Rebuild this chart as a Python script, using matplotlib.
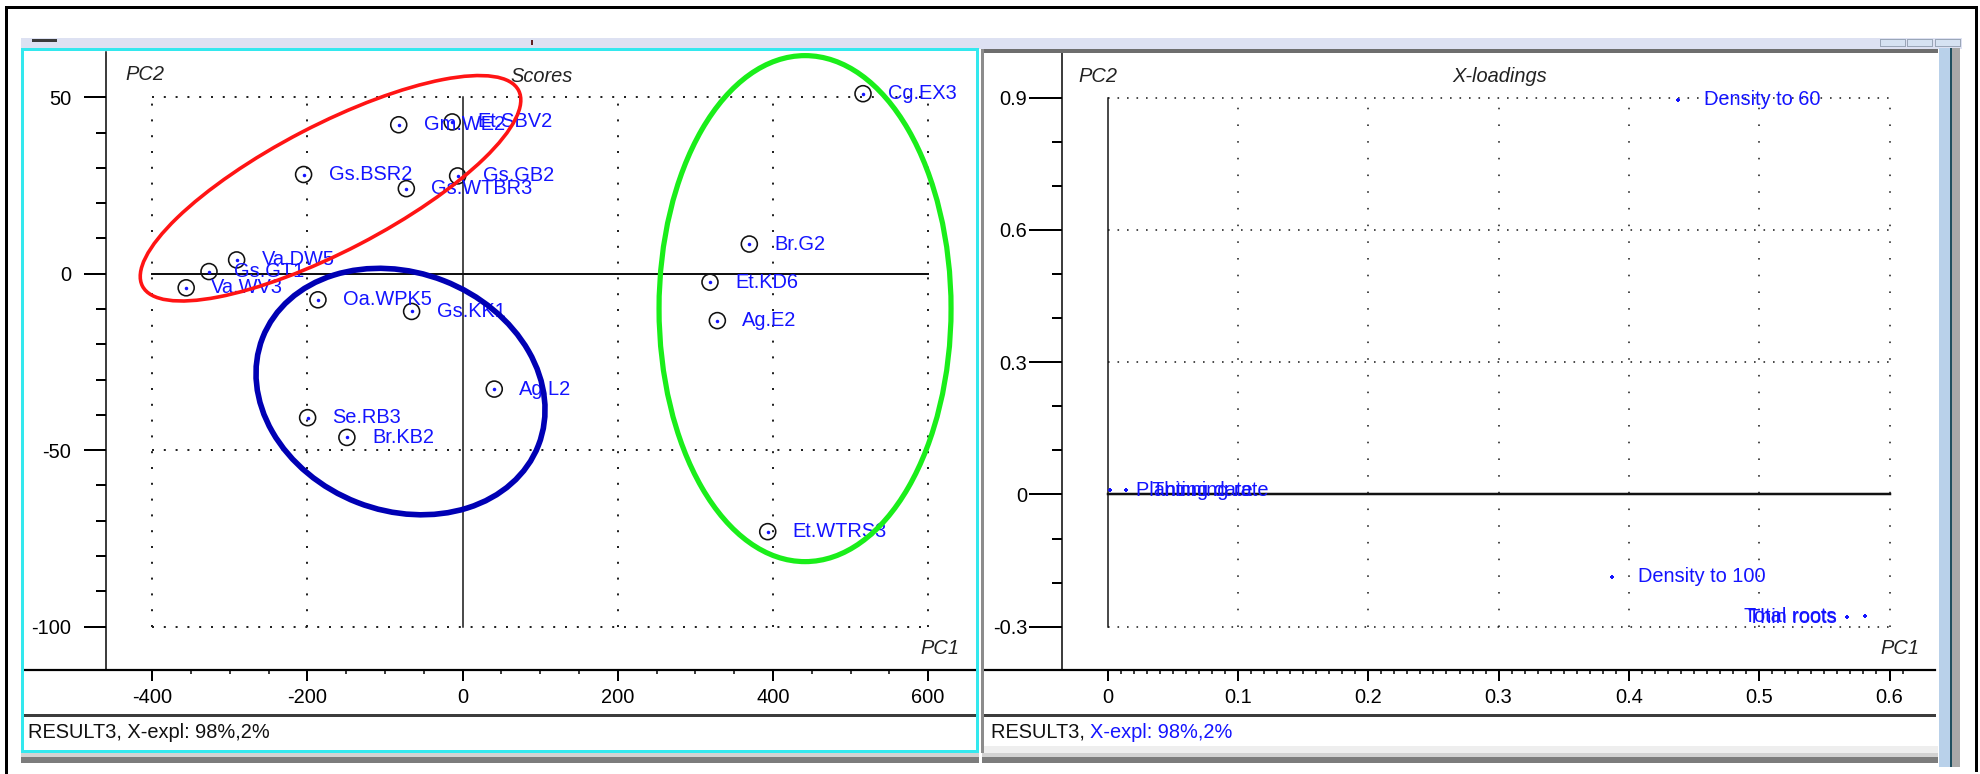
import numpy as np
import matplotlib
matplotlib.use('Agg')
import matplotlib.pyplot as plt
from matplotlib import font_manager
from matplotlib.patches import Ellipse, Rectangle
from matplotlib.transforms import ScaledTranslation
from matplotlib.ticker import FixedLocator

# PCA scores (RESULT3)
score_names = ['Cg.EX3', 'Br.G2', 'Et.KD6', 'Ag.E2', 'Et.WTRS3', 'Ag.L2',
               'Gs.KK1', 'Oa.WPK5', 'Se.RB3', 'Br.KB2', 'Gm.WE2', 'Et.SBV2',
               'Gs.BSR2', 'Gs.WTBR3', 'Gs.GB2', 'Va.DW5', 'Gs.GT1', 'Va.WV3']
score_pc1 = [516.1, 369.6, 318.9, 328.4, 393.3, 40.9,
             -65.6, -186.3, -199.6, -149.0, -82.2, -13.3,
             -204.8, -72.4, -6.3, -291.1, -326.7, -356.1]
score_pc2 = [51.0, 8.4, -2.4, -13.3, -73.1, -32.7,
             -10.7, -7.4, -40.8, -46.4, 42.2, 43.0,
             28.1, 24.1, 27.7, 3.9, 0.6, -4.0]

# X-loadings
loading_names = ['Planting date', 'Thinning rate', 'Density to 60',
                 'Density to 100', 'Thin roots', 'Total roots']
loading_pc1 = [0.0015, 0.0141, 0.4377, 0.3873, 0.5672, 0.5813]
loading_pc2 = [0.010, 0.010, 0.8947, -0.1867, -0.278, -0.276]

score_xticks = [-400, -200, 0, 200, 400, 600]
score_yticks = [-100, -50, 0, 50]
loading_xticks = [0, 0.1, 0.2, 0.3, 0.4, 0.5, 0.6]
loading_yticks = [-0.3, 0, 0.3, 0.6, 0.9]

status_text = 'RESULT3, X-expl: 98%,2%'

W, H = 1980, 774
PT = 0.72  # points per pixel at 100 dpi
BLUE = '#1414ff'

fonts = font_manager.fontManager.ttflist
if any(f.name == 'Liberation Sans Narrow' for f in fonts):
    family, stretch, FS = 'Liberation Sans Narrow', 'normal', 17
elif any(f.name == 'Noto Sans' and f.stretch == 'condensed' for f in fonts):
    family, stretch, FS = 'Noto Sans', 'condensed', 16
else:
    family, stretch, FS = 'Liberation Sans', 'normal', 14.4
plt.rcParams['font.family'] = [family, 'DejaVu Sans']
plt.rcParams['font.stretch'] = stretch
plt.rcParams['axes.unicode_minus'] = False
plt.rcParams['lines.scale_dashes'] = False

fig = plt.figure(figsize=(W / 100, H / 100), dpi=100)
fig.patch.set_facecolor('white')


def box(x0, y0, x1, y1):
    return [x0 / W, 1 - y1 / H, (x1 - x0) / W, (y1 - y0) / H]


def rect(x0, y0, x1, y1, color):
    fig.add_artist(Rectangle((x0 / W, 1 - y1 / H), (x1 - x0) / W, (y1 - y0) / H,
                             transform=fig.transFigure, facecolor=color,
                             edgecolor='none', zorder=1))


def ftext(x, y, s, **kw):
    return fig.text(x / W, 1 - y / H, s, **kw)


# window chrome
rect(5, 6, 1978, 9, 'black')
rect(5, 6, 8, 774, 'black')
rect(1975, 6, 1978, 772, 'black')
rect(21, 38, 1962, 49, '#dde1f2')
rect(32, 39, 57, 42, '#3a3a3a')
rect(531, 40, 533, 45, '#602020')
for bx in (1880, 1907, 1935):
    rect(bx, 39, bx + 26, 47, '#9aa6b8')
    rect(bx + 1, 40, bx + 25, 46, '#d6e2f2')

# left panel frame (active, cyan)
rect(21, 48, 979, 51, '#33e8ee')
rect(21, 48, 24, 753, '#33e8ee')
rect(976, 48, 979, 753, '#33e8ee')
rect(21, 750, 979, 753, '#33e8ee')
rect(21, 753, 979, 757, '#d2d2d2')
rect(21, 757, 979, 763, '#7c7c7c')

# right panel frame
rect(981, 49, 1938, 53, '#6e6e6e')
rect(981, 49, 984, 753, '#8c8c8c')
rect(984, 746, 1938, 753, '#eeeeee')
rect(982, 753, 1938, 757, '#d2d2d2')
rect(982, 757, 1938, 763, '#7c7c7c')
rect(1939, 48, 1950, 767, '#b9d1ea')
rect(1950, 48, 1952, 767, '#1f4f5f')
rect(1952, 48, 1960, 767, '#a8a8a8')

# status bar separators
rect(24, 714, 976, 717, '#3c3c3c')
rect(984, 714, 1936, 717, '#3c3c3c')


def dotted(ax, horiz, vals, lo, hi, period_px, lw_px):
    style = (0, (lw_px * PT, (period_px - lw_px) * PT))
    for v in vals:
        if horiz:
            ax.plot([lo, hi], [v, v], color='#222222', lw=lw_px * PT, ls=style, zorder=1)
        else:
            ax.plot([v, v], [lo, hi], color='#222222', lw=lw_px * PT, ls=style, zorder=1)


def style_axes(ax, spine_frac, ylen_px, ypad_px):
    for side in ('top', 'right'):
        ax.spines[side].set_visible(False)
    ax.spines['left'].set_position(('axes', spine_frac))
    ax.spines['left'].set_linewidth(1.5 * PT)
    ax.spines['bottom'].set_linewidth(2.2 * PT)
    ax.tick_params(axis='y', which='major', length=ylen_px * PT, width=2 * PT,
                   pad=ypad_px * PT, labelsize=FS, direction='out')
    ax.tick_params(axis='y', which='minor', length=10 * PT, width=2 * PT, direction='out')
    ax.tick_params(axis='x', which='major', length=11 * PT, width=2 * PT,
                   pad=7 * PT, labelsize=FS, direction='out')
    ax.tick_params(axis='x', which='minor', length=4 * PT, width=1.5 * PT, direction='out')


# ---- Scores ----
ax1 = fig.add_axes(box(24, 51.7, 976, 670))
ax1.set_xlim(-565.1, 661.7)
ax1.set_ylim(-112.3, 62.9)
style_axes(ax1, (106 - 24) / (976 - 24), 22, 12.6)
ax1.set_xticks(score_xticks, [f'{v:g}' for v in score_xticks])
ax1.set_yticks(score_yticks, [f'{v:g}' for v in score_yticks])
ax1.xaxis.set_minor_locator(FixedLocator([v for v in range(-350, 600, 50) if v % 200]))
ax1.yaxis.set_minor_locator(FixedLocator([v for v in range(-90, 50, 10) if v % 50]))

gx = [v for v in score_xticks if v != 0]
gy = [v for v in score_yticks if v != 0]
dotted(ax1, True, gy, score_xticks[0], score_xticks[-1], 11.8, 2)
dotted(ax1, False, gx, score_yticks[0], score_yticks[-1], 15.8, 2)
ax1.plot([score_xticks[0], score_xticks[-1]], [0, 0], color='#111111', lw=2 * PT, zorder=1)
ax1.plot([0, 0], [score_yticks[0], score_yticks[-1]], color='#111111', lw=1.5 * PT, zorder=1)

ax1.scatter(score_pc1, score_pc2, s=(16 * PT) ** 2, facecolors='none',
            edgecolors='#111111', linewidths=1.6 * PT, zorder=3)
ax1.scatter(score_pc1, score_pc2, s=(3.5 * PT) ** 2, c=BLUE, linewidths=0, zorder=4)
for name, x, y in zip(score_names, score_pc1, score_pc2):
    ax1.annotate(name, (x, y), xytext=(25 * PT, 0), textcoords='offset points',
                 ha='left', va='center', color=BLUE, fontsize=FS, zorder=5)

# hand-drawn group outlines: centre (PC1, PC2), half-axes in px, tilt, colour, width
groups = [
    ((-170.1, 24.2), 212, 63, 27.5, '#ff1414', 3.6),
    ((-79.9, -33.4), 148, 119, -21.3, '#0000b4', 5.6),
    ((441.4, -9.9), 146, 253, 0.0, '#1aee1a', 5.2),
]
for (cx, cy), a, b, ang, col, lw in groups:
    tr = fig.dpi_scale_trans + ScaledTranslation(cx, cy, ax1.transData)
    ax1.add_patch(Ellipse((0, 0), 2 * a / 100, 2 * b / 100, angle=ang, transform=tr,
                          fill=False, edgecolor=col, lw=lw * PT, zorder=6))

ftext(125, 75, 'PC2', style='italic', color='#222222', fontsize=FS, va='center')
ftext(510, 77, 'Scores', style='italic', color='#222222', fontsize=FS, va='center')
ftext(920, 648, 'PC1', style='italic', color='#222222', fontsize=FS, va='center')
ftext(28, 732, status_text, color='#111111', fontsize=FS, va='center')

# ---- X-loadings ----
ax2 = fig.add_axes(box(984, 51.7, 1935, 670))
ax2.set_xlim(-0.0949, 0.6349)
ax2.set_ylim(-0.398, 1.004)
style_axes(ax2, (1061.7 - 984) / (1935 - 984), 33, 1.5)
ax2.set_xticks(loading_xticks, [f'{v:g}' for v in loading_xticks])
ax2.set_yticks(loading_yticks, [f'{v:g}' for v in loading_yticks])
ax2.xaxis.set_minor_locator(FixedLocator(np.arange(1, 62) / 100))
ax2.yaxis.set_minor_locator(FixedLocator([-0.2, -0.1, 0.1, 0.2, 0.4, 0.5, 0.7, 0.8]))

lx = [v for v in loading_xticks if v != 0]
ly = [v for v in loading_yticks if v != 0]
dotted(ax2, True, ly, loading_xticks[0], loading_xticks[-1], 9.5, 1.6)
dotted(ax2, False, lx, loading_yticks[0], loading_yticks[-1], 16.7, 1.6)
ax2.plot([loading_xticks[0], loading_xticks[-1]], [0, 0], color='#111111', lw=2.5 * PT, zorder=1)
ax2.plot([0, 0], [loading_yticks[0], loading_yticks[-1]], color='#111111', lw=1.5 * PT, zorder=1)

ax2.scatter(loading_pc1, loading_pc2, marker='P', s=(5 * PT) ** 2, c=BLUE,
            linewidths=0, zorder=4)
# labels that would run off the right edge are put on the left of the point
left_side = {'Thin roots': 10, 'Total roots': 29}
for name, x, y in zip(loading_names, loading_pc1, loading_pc2):
    if name in left_side:
        xt, ha = -left_side[name] * PT, 'right'
    else:
        xt, ha = 26 * PT, 'left'
    ax2.annotate(name, (x, y), xytext=(xt, 0), textcoords='offset points',
                 ha=ha, va='center', color=BLUE, fontsize=FS, zorder=5)

ftext(1078, 76, 'PC2', style='italic', color='#222222', fontsize=FS, va='center')
ftext(1452, 77, 'X-loadings', style='italic', color='#222222', fontsize=FS, va='center')
ftext(1880, 648, 'PC1', style='italic', color='#222222', fontsize=FS, va='center')
head, tail = status_text.split(' ', 1)
t_head = ftext(991, 732, head + ' ', color='#111111', fontsize=FS, va='center')
ax2.annotate(tail, xy=(1, 0), xycoords=t_head, va='bottom', ha='left',
             color=BLUE, fontsize=FS, annotation_clip=False)

fig.savefig('out.png', dpi=100, facecolor='white')
